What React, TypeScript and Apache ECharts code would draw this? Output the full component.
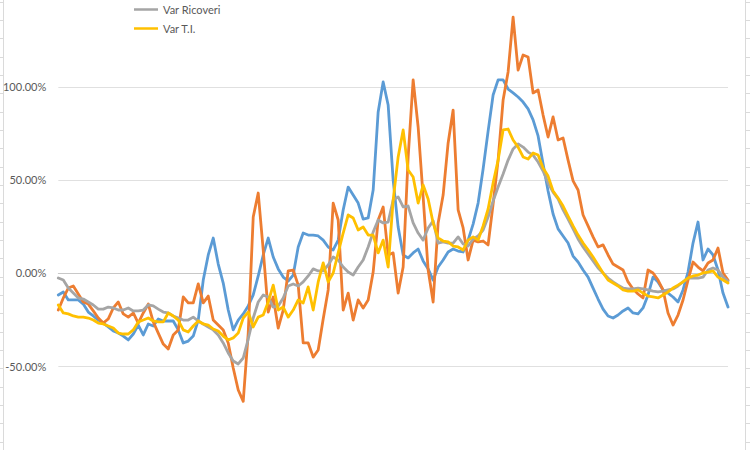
import React, { useEffect, useRef } from "react";
import * as echarts from "echarts";

const varBlue: number[] = [
  -11.8, -10.2, -14.5, -14.5, -14.5, -16.7, -21.0, -23.1, -25.3, -26.9,
  -29.0, -31.2, -32.3, -33.9, -36.0, -32.8, -28.0, -33.3, -27.4, -28.5,
  -24.7, -25.8, -25.8, -25.8, -30.6, -37.6, -36.6, -33.9, -25.3, -3.8,
  9.7, 18.8, 4.8, -5.4, -19.9, -30.6, -25.3, -22.0, -17.7, -11.8,
  -1.6, 9.7, 18.8, 8.6, 2.2, -2.2, -4.3, -1.1, 14.0, 21.5,
  20.4, 20.4, 19.9, 17.7, 14.0, 12.4, 17.7, 33.9, 46.2, 41.9,
  37.6, 29.0, 29.6, 44.6, 86.6, 102.7, 90.3, 50.0, 24.7, 9.7,
  8.1, 10.8, 12.9, 6.5, 2.2, -3.8, 3.2, 7.0, 11.3, 12.9,
  11.8, 11.3, 17.7, 26.3, 37.6, 55.9, 76.3, 95.7, 103.8, 103.8,
  98.9, 96.8, 94.6, 91.9, 88.2, 82.3, 73.7, 58.6, 44.1, 31.7,
  23.7, 19.9, 16.1, 9.1, 5.9, 1.6, -2.2, -8.1, -14.0, -19.4,
  -23.1, -24.2, -22.6, -20.4, -18.8, -21.5, -22.0, -18.8, -11.8, -2.2,
  -4.8, -9.1, -10.8, -12.9, -15.6, -9.1, 0.5, 16.1, 27.4, 7.0,
  12.9, 9.7, 1.6, -10.8, -18.3,
];

const varOrange: number[] = [
  -19.9, -13.4, -8.1, -7.0, -11.3, -15.6, -16.7, -20.4, -24.2, -26.9,
  -24.7, -18.8, -15.6, -22.0, -23.7, -21.5, -26.9, -21.5, -16.7, -26.3,
  -32.3, -38.2, -40.9, -33.3, -30.6, -12.9, -16.1, -16.1, -5.9, -16.1,
  -12.4, -25.3, -28.0, -30.6, -37.6, -51.1, -62.9, -69.0, -32.3, 30.1,
  43.0, 12.4, -21.0, -12.9, -29.6, -19.9, 1.1, 1.6, -6.5, -37.6,
  -37.6, -45.2, -41.4, -24.7, -9.1, 37.6, 28.5, -19.9, -10.8, -25.3,
  -14.5, -18.8, -14.5, 0.5, 28.5, 35.5, 9.7, 10.8, -10.8, 3.2,
  62.4, 103.8, 78.5, 40.9, 1.6, -15.6, 26.9, 41.9, 69.9, 87.6,
  33.9, 24.2, 7.0, 17.7, 16.7, 17.2, 15.1, 37.1, 60.7, 93.0,
  108.1, 137.6, 109.1, 117.2, 116.1, 96.8, 98.4, 84.9, 73.1, 83.9,
  71.5, 72.6, 60.7, 49.5, 44.6, 31.2, 25.3, 19.4, 14.0, 15.1,
  9.7, 4.8, 3.2, 1.6, -4.8, -8.6, -11.3, -13.4, 1.6, 0,
  -3.8, -9.1, -21.5, -28.0, -22.6, -14.5, -3.8, 5.9, 3.2, 1.1,
  5.4, 7.0, 13.4, 0, -3.8,
];

const varRicoveri: number[] = [
  -2.7, -3.8, -8.1, -10.8, -13.4, -14.0, -15.6, -17.2, -19.4, -19.4,
  -18.3, -18.8, -19.9, -19.9, -18.8, -20.4, -20.4, -19.9, -17.2, -17.7,
  -19.4, -21.0, -21.5, -23.1, -24.2, -25.3, -25.3, -23.7, -25.8, -27.4,
  -29.0, -30.6, -33.3, -37.6, -43.0, -47.3, -48.9, -45.7, -35.5, -24.2,
  -15.6, -11.8, -12.9, -18.3, -17.7, -13.4, -7.0, -5.9, -7.0, -4.8,
  -1.6, 2.2, 1.1, 1.1, 4.3, 8.6, 7.0, 3.2, 0.5, -1.1,
  3.2, 7.0, 14.0, 22.0, 28.5, 26.9, 27.4, 39.2, 40.9, 35.5,
  36.0, 26.9, 21.5, 17.7, 24.2, 28.0, 16.1, 16.7, 16.1, 16.1,
  19.4, 15.6, 14.5, 18.3, 19.9, 23.1, 30.1, 38.7, 46.2, 53.2,
  60.7, 66.7, 69.4, 67.7, 65.0, 63.4, 59.7, 54.8, 48.4, 43.5,
  39.8, 33.9, 29.0, 23.7, 18.3, 14.0, 10.2, 6.5, 2.7, 0,
  -2.7, -4.8, -6.5, -8.1, -8.6, -8.6, -8.1, -8.6, -9.1, -9.7,
  -10.2, -9.7, -9.1, -8.6, -7.0, -4.8, -2.7, -2.7, -2.7, -2.2,
  1.6, 2.7, 1.6, -2.2, -4.3,
];

const varTI: number[] = [
  -17.2, -21.5, -22.0, -23.1, -23.7, -23.7, -24.2, -25.3, -26.9, -27.4,
  -28.5, -29.6, -32.3, -32.8, -32.8, -30.6, -26.3, -25.3, -24.2, -25.8,
  -26.3, -26.3, -21.5, -23.1, -25.3, -30.6, -31.7, -28.5, -25.8, -27.4,
  -28.0, -30.1, -31.2, -33.9, -36.0, -34.9, -32.3, -24.2, -21.0, -29.0,
  -23.7, -22.6, -15.6, -6.5, -19.9, -18.3, -23.7, -19.9, -14.5, -16.1,
  -7.5, -19.9, -4.8, 5.4, -4.8, 0, 10.8, 21.5, 31.2, 29.6,
  23.1, 24.7, 20.4, 20.4, 10.8, 17.7, 3.2, 39.2, 62.4, 76.9,
  55.4, 51.6, 37.6, 47.3, 39.8, 26.9, 18.8, 17.2, 16.7, 14.5,
  14.0, 12.4, 17.7, 19.4, 17.7, 25.3, 34.4, 48.4, 60.7, 76.9,
  77.4, 71.5, 67.7, 62.4, 61.3, 64.5, 63.4, 56.4, 52.1, 44.1,
  40.3, 36.0, 30.6, 25.3, 20.4, 16.1, 12.4, 8.6, 4.3, 0,
  -3.8, -5.4, -7.0, -9.1, -9.7, -9.7, -9.1, -10.8, -12.4, -12.9,
  -13.4, -11.8, -10.2, -8.1, -6.5, -4.8, -2.7, -1.6, -1.1, 0,
  0.5, 1.1, -2.2, -3.8, -5.4,
];

const days: string[] = varRicoveri.map((_, i) => String(i + 1));

const legendNames: string[] = ["Var Ricoveri", "Var T.I."];
// the picture is a crop of a taller chart: its visible value range
const yMin = -95.16;
const yMax = 146.77;

export default function App() {
  const ref = useRef<HTMLDivElement>(null);

  useEffect(() => {
    if (!ref.current) return;
    const chart = echarts.init(ref.current, undefined, { renderer: "svg" });

    const lineSeries = (name: string, data: number[], color: string, z: number) => ({
      name,
      type: "line",
      data,
      symbol: "none",
      showSymbol: false,
      z,
      lineStyle: { color, width: 2.8, join: "round", cap: "round" },
      itemStyle: { color },
    });

    // spreadsheet cell border decoration around the cropped chart
    const deco: any[] = [
      { type: "line", shape: { x1: 3.5, y1: 0, x2: 3.5, y2: 450 }, style: { stroke: "#dadada", lineWidth: 1 }, silent: true },
      { type: "line", shape: { x1: 745.5, y1: 0, x2: 745.5, y2: 450 }, style: { stroke: "#dadada", lineWidth: 1 }, silent: true },
    ];
    for (let k = 0; k < 25; k++) {
      const y = Math.round(1.7 + 18.33 * k) + 0.5;
      deco.push({ type: "line", shape: { x1: 0, y1: y, x2: 3, y2: y }, style: { stroke: "#dadada", lineWidth: 1 }, silent: true });
      deco.push({ type: "line", shape: { x1: 746, y1: y, x2: 750, y2: y }, style: { stroke: "#dadada", lineWidth: 1 }, silent: true });
    }

    chart.setOption({
      animation: false,
      backgroundColor: "#ffffff",
      textStyle: { fontFamily: "Lato, 'Open Sans', sans-serif" },
      grid: { left: 58, right: 22, top: 0, bottom: 0, containLabel: false },
      legend: {
        data: legendNames,
        orient: "vertical",
        left: 134,
        top: 4,
        itemWidth: 24,
        itemHeight: 14,
        itemGap: 8,
        icon: "path://M0,6 L24,6 L24,8.5 L0,8.5 Z",
        textStyle: { color: "#595959", fontSize: 11, fontFamily: "Lato, 'Open Sans', sans-serif" },
        padding: 0,
      },
      xAxis: {
        type: "category",
        data: days,
        boundaryGap: false,
        axisLine: { show: true, onZero: true, lineStyle: { color: "#c8c8c8", width: 1 } },
        axisTick: { show: false },
        axisLabel: { show: false },
        splitLine: { show: false },
      },
      yAxis: {
        type: "value",
        min: yMin,
        max: yMax,
        splitNumber: 5,
        axisLine: { show: false },
        axisTick: { show: false },
        axisLabel: {
          color: "#595959",
          fontSize: 11,
          margin: 12,
          showMinLabel: false,
          showMaxLabel: false,
          formatter: (v: number) => (Math.abs(v % 50) < 0.001 ? v.toFixed(2) + "%" : ""),
        },
        splitLine: {
          show: true,
          showMinLine: false,
          showMaxLine: false,
          lineStyle: { color: "#e0e0e0", width: 1 },
        },
      },
      series: [
        lineSeries("Var Casi", varBlue, "#5b9bd5", 2),
        lineSeries("Var Decessi", varOrange, "#ed7d31", 3),
        lineSeries("Var Ricoveri", varRicoveri, "#a5a5a5", 4),
        lineSeries("Var T.I.", varTI, "#ffc000", 5),
      ],
      graphic: deco,
    });

    return () => chart.dispose();
  }, []);

  return (
    <div
      ref={ref}
      style={{ width: 750, height: 450, position: "absolute", left: 0, top: 0 }}
    />
  );
}
